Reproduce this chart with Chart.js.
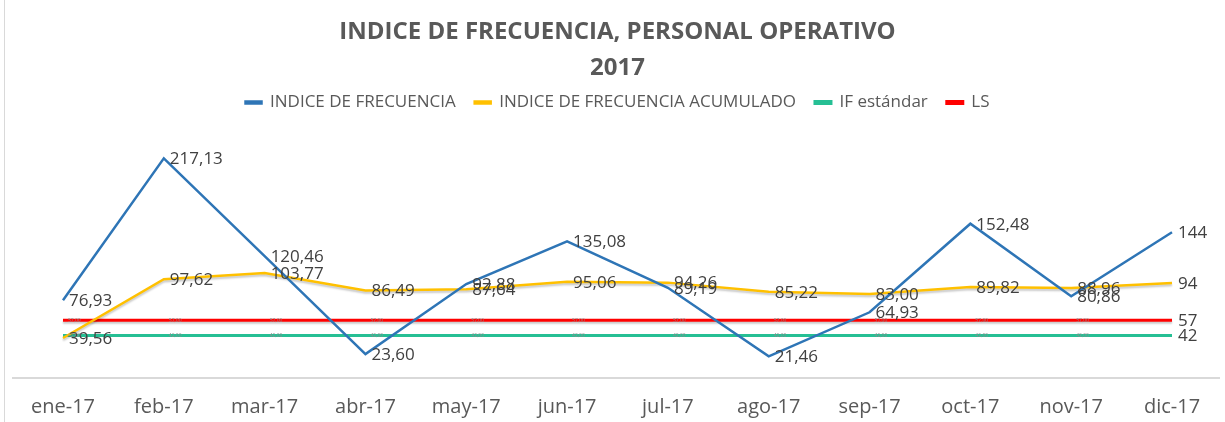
<!DOCTYPE html>
<html lang="es">
<head>
  <meta charset="UTF-8">
  <title>Indice de Frecuencia, Personal Operativo 2017</title>
  <script src="https://cdn.jsdelivr.net/npm/chart.js"></script>
  <style>
    * { margin: 0; padding: 0; box-sizing: border-box; }
    body { background: #ffffff; width: 1225px; height: 422px; overflow: hidden; }
    canvas { display: block; }
  </style>
</head>
<body>
<canvas id="ifChart" width="1225" height="422"></canvas>

<script>
const meses = ['ene-17', 'feb-17', 'mar-17', 'abr-17', 'may-17', 'jun-17', 'jul-17', 'ago-17', 'sep-17', 'oct-17', 'nov-17', 'dic-17'];
const indiceFrecuencia = [76.93, 217.13, 120.46, 23.60, 92.88, 135.08, 89.19, 21.46, 64.93, 152.48, 80.86, 144];
const indiceAcumulado = [39.56, 97.62, 103.77, 86.49, 87.64, 95.06, 94.26, 85.22, 83.00, 89.82, 88.96, 94];
const ifEstandar = [42, 42, 42, 42, 42, 42, 42, 42, 42, 42, 42, 42];
const limiteSup = [57, 57, 57, 57, 57, 57, 57, 57, 57, 57, 57, 57];

// el último mes se muestra sin decimales
const fmt = (v, last) => last ? String(Math.round(v)) : v.toFixed(2).replace('.', ',');

// etiquetas de datos a la derecha de cada punto
const etiquetas = {
  id: 'etiquetas',
  beforeDatasetDraw(chart, args) {
    if (!chart.data.datasets[args.index].shadow) return;
    const ctx = chart.ctx;
    ctx.save();
    ctx.shadowColor = 'rgba(0, 0, 0, 0.22)';
    ctx.shadowBlur = 2;
    ctx.shadowOffsetY = 2;
  },
  afterDatasetDraw(chart, args) {
    if (chart.data.datasets[args.index].shadow) chart.ctx.restore();
  },
  afterDatasetsDraw(chart) {
    const ctx = chart.ctx;
    ctx.save();
    ctx.textBaseline = 'middle';
    ctx.textAlign = 'left';
    chart.data.datasets.forEach((ds, i) => {
      const meta = chart.getDatasetMeta(i);
      meta.data.forEach((pt, j) => {
        const last = j === ds.data.length - 1;
        if (ds.tinyLabels && !last) {
          ctx.font = '5px "Open Sans"';
          ctx.fillStyle = '#8c8c8c';
          ctx.fillText(fmt(ds.data[j], last), pt.x + 5, pt.y);
        } else {
          ctx.font = '17px "Open Sans"';
          ctx.fillStyle = '#404040';
          ctx.fillText(fmt(ds.data[j], last), pt.x + 6, pt.y + 1);
        }
      });
    });
    ctx.restore();
  }
};

// marco del gráfico
const marco = {
  id: 'marco',
  beforeDraw(chart) {
    const ctx = chart.ctx;
    const y = chart.chartArea.bottom;
    ctx.save();
    ctx.strokeStyle = '#d9d9d9';
    ctx.lineWidth = 1;
    ctx.beginPath();
    ctx.moveTo(4.5, 0);
    ctx.lineTo(4.5, 422);
    ctx.stroke();
    ctx.lineWidth = 2;
    ctx.beginPath();
    ctx.moveTo(12, y);
    ctx.lineTo(1220, y);
    ctx.stroke();
    ctx.restore();
  }
};

new Chart(document.getElementById('ifChart'), {
  type: 'line',
  data: {
    labels: meses,
    datasets: [
      { label: 'INDICE DE FRECUENCIA', data: indiceFrecuencia, borderColor: '#2e75b6', backgroundColor: '#2e75b6', borderWidth: 2.5 },
      { label: 'INDICE DE FRECUENCIA ACUMULADO', data: indiceAcumulado, borderColor: '#ffc000', backgroundColor: '#ffc000', borderWidth: 2.5, shadow: true },
      { label: 'IF estándar', data: ifEstandar, borderColor: '#26bf94', backgroundColor: '#26bf94', borderWidth: 3, tinyLabels: true },
      { label: 'LS', data: limiteSup, borderColor: '#ff0000', backgroundColor: '#ff0000', borderWidth: 3, tinyLabels: true, shadow: true }
    ]
  },
  options: {
    responsive: false,
    animation: false,
    devicePixelRatio: 1,
    elements: { point: { radius: 0 }, line: { tension: 0 } },
    layout: { padding: { left: 63, right: 53, top: 0, bottom: 0 } },
    plugins: {
      title: {
        display: true,
        text: ['INDICE DE FRECUENCIA, PERSONAL OPERATIVO', '2017'],
        color: '#595959',
        font: { family: 'Open Sans', size: 24, weight: 'bold', lineHeight: 1.5 },
        padding: { top: 14, bottom: -11 }
      },
      legend: {
        labels: {
          color: '#595959',
          font: { family: 'Open Sans', size: 17 },
          boxWidth: 16,
          boxHeight: 2,
          padding: 19
        }
      },
      tooltip: { enabled: false }
    },
    scales: {
      x: {
        grid: { display: false, drawTicks: false },
        border: { display: false },
        ticks: { color: '#595959', font: { family: 'Open Sans', size: 20 }, padding: 17, maxRotation: 0 },
        afterFit: s => { s.height = 44; }
      },
      y: { display: false, min: 0, max: 254 }
    }
  },
  plugins: [marco, etiquetas]
});
</script>
</body>
</html>
